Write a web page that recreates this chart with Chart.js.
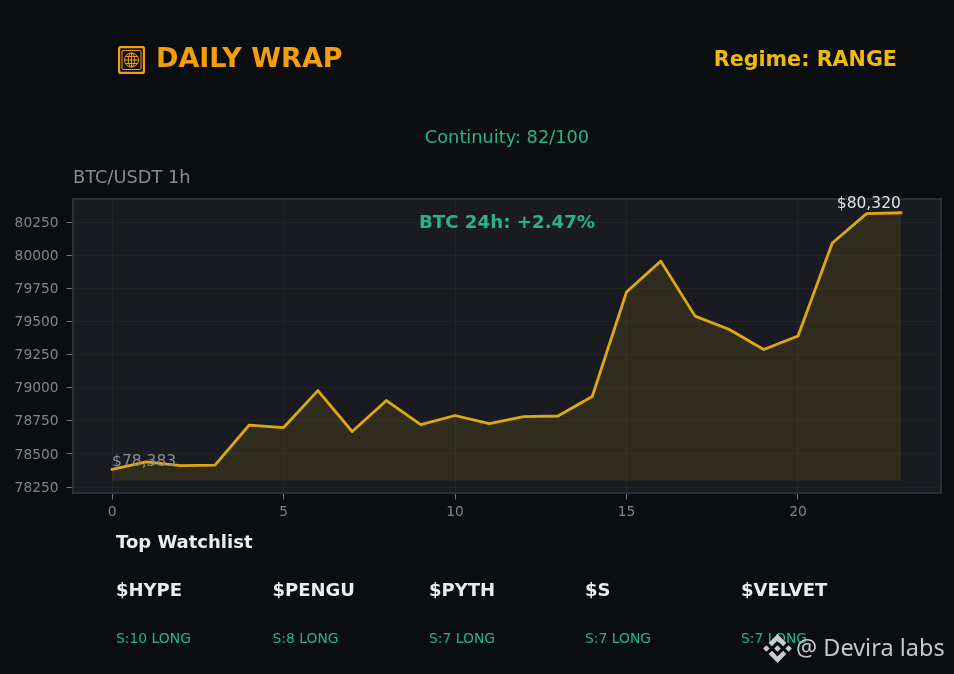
<!DOCTYPE html>
<html><head><meta charset="utf-8">
<script src="https://cdn.jsdelivr.net/npm/chart.js@4"></script>
<style>
html,body{margin:0;padding:0;background:#0a0e11;width:954px;height:674px;overflow:hidden}
body{position:relative;font-family:"DejaVu Sans",sans-serif}
canvas{position:absolute;left:0;top:0}
.t{position:absolute;white-space:nowrap;line-height:1;transform:translateY(-50%)}
.c{transform:translate(-50%,-50%)}
.r{transform:translate(-100%,-50%)}
svg{position:absolute}
</style></head><body>
<canvas id="c" width="954" height="674"></canvas>
<svg style="left:118px;top:46px" width="27" height="28" viewBox="0 0 27 28" fill="none" stroke="#f59e0b">
<rect x="1" y="1" width="25" height="26" rx="2" stroke-width="2.400"/>
<rect x="4" y="4.500" width="19" height="19" rx="1" stroke-width="1"/>
<circle cx="13.500" cy="14" r="7" stroke-width="1"/><ellipse cx="13.500" cy="14" rx="3.200" ry="7" stroke-width="1"/>
<path d="M6.500 14h14M7.500 10.500h12M7.500 17.500h12M13.500 7v14" stroke-width="1"/>
</svg>
<div class="t" style="left:156px;top:57px;font-size:27px;font-weight:bold;color:#f59e0b">DAILY WRAP</div>
<div class="t r" style="left:897px;top:59px;font-size:20.700px;font-weight:bold;color:#f0b90b">Regime: RANGE</div>
<div class="t c" style="left:507px;top:137px;font-size:17.800px;color:#26b587">Continuity: 82/100</div>
<div class="t" style="left:73px;top:177px;font-size:17.800px;color:#868b94">BTC/USDT 1h</div>
<div class="t c" style="left:507px;top:222px;font-size:18.200px;font-weight:bold;color:#26b587">BTC 24h: +2.47%</div>
<div class="t" style="left:116px;top:542px;font-size:18px;font-weight:bold;color:#eaecef">Top Watchlist</div>
<div id="w"></div>
<svg style="left:763px;top:634px" width="29" height="29" viewBox="0 0 126 126" fill="#c9ccd0">
<path d="M38.700 53L63 28.700 87.300 53l14.100-14.100L63 .5 24.600 38.900zM.5 63l14.100-14.100L28.700 63 14.600 77.100zM38.700 73L63 97.300 87.300 73l14.100 14.100L63 125.500 24.600 87.100zM97.300 63l14.100-14.100L125.500 63l-14.100 14.100zM77.300 63L63 77.300 48.700 63 63 48.700z"/>
</svg>
<div class="t" style="left:796px;top:648px;font-family:'Noto Sans';font-size:23.500px;color:#c4c7cb">@ Devira labs</div>
<script>
const hours=[0,1,2,3,4,5,6,7,8,9,10,11,12,13,14,15,16,17,18,19,20,21,22,23];
const prices=[78383,78440,78412,78416,78718,78699,78978,78669,78903,78721,78790,78729,78782,78786,78933,79722,79955,79540,79439,79288,79390,80092,80314,80320];
const xTicks=[0,5,10,15,20];
const yTicks=[78250,78500,78750,79000,79250,79500,79750,80000,80250];
const tickersW=["$HYPE","$PENGU","$PYTH","$S","$VELVET"];
const scores=["S:10 LONG","S:8 LONG","S:7 LONG","S:7 LONG","S:7 LONG"];
const startLabel="$78,383", endLabel="$80,320";
const w=document.getElementById('w');
const xs=[116,272.500,429,585,741];
tickersW.forEach((t,i)=>{
 w.insertAdjacentHTML('beforeend',`<div class="t" style="left:${xs[i]}px;top:590px;font-size:18px;font-weight:bold;color:#eaecef">${t}</div><div class="t" style="left:${xs[i]}px;top:639px;font-size:13.900px;color:#26b587">${scores[i]}</div>`);
});
const frame={id:'frame',
 beforeDraw(ch){const a=ch.chartArea,g=ch.ctx;g.save();g.fillStyle='#1a1b20';g.fillRect(a.left,a.top,a.width,a.height);g.restore();},
 afterDraw(ch){const a=ch.chartArea,g=ch.ctx,x=ch.scales.x,y=ch.scales.y;g.save();
  g.strokeStyle='#2a2e35';g.lineWidth=2;g.strokeRect(a.left,a.top,a.width,a.height);
  g.font='15.500px "DejaVu Sans"';g.textBaseline='alphabetic';
  g.fillStyle='#868b94';g.textAlign='left';g.fillText(startLabel,x.getPixelForValue(hours[0]),y.getPixelForValue(prices[0])-3);
  g.fillStyle='#e0e2e6';g.textAlign='right';g.fillText(endLabel,x.getPixelForValue(hours[23]),y.getPixelForValue(prices[23])-4.500);
  g.restore();}
};
const grid={color:'rgba(255,255,255,0.035)',tickColor:'#6f737a',tickLength:6.500,lineWidth:1};
const tickFont={family:'DejaVu Sans',size:13.800};
new Chart(document.getElementById('c'),{
 type:'line',
 data:{labels:hours,datasets:[{data:hours.map((h,i)=>({x:h,y:prices[i]})),borderColor:'#e0a80f',borderWidth:2.800,tension:0,pointRadius:0,fill:{target:{value:78300}},backgroundColor:'rgba(240,185,11,0.105)',borderJoinStyle:'round',borderCapStyle:'square'}]},
 options:{responsive:false,animation:false,devicePixelRatio:1,
  layout:{padding:{left:0,top:199,right:13,bottom:0}},
  plugins:{legend:{display:false},tooltip:{enabled:false},title:{display:false}},
  scales:{
   x:{type:'linear',min:-1.14,max:24.17,afterFit:s=>{s.height=181},afterBuildTicks:s=>{s.ticks=xTicks.map(v=>({value:v}))},
     grid,border:{display:false},
     ticks:{autoSkip:false,color:'#7f848c',font:tickFont,padding:5,maxRotation:0,callback:v=>String(v)}},
   y:{type:'linear',min:78205,max:80424,afterFit:s=>{s.width=73},afterBuildTicks:s=>{s.ticks=yTicks.map(v=>({value:v}))},
     grid,border:{display:false},
     ticks:{autoSkip:false,color:'#7f848c',font:tickFont,padding:8,labelOffset:1,callback:v=>String(v)}}
  }},
 plugins:[frame]
});
</script>
</body></html>
